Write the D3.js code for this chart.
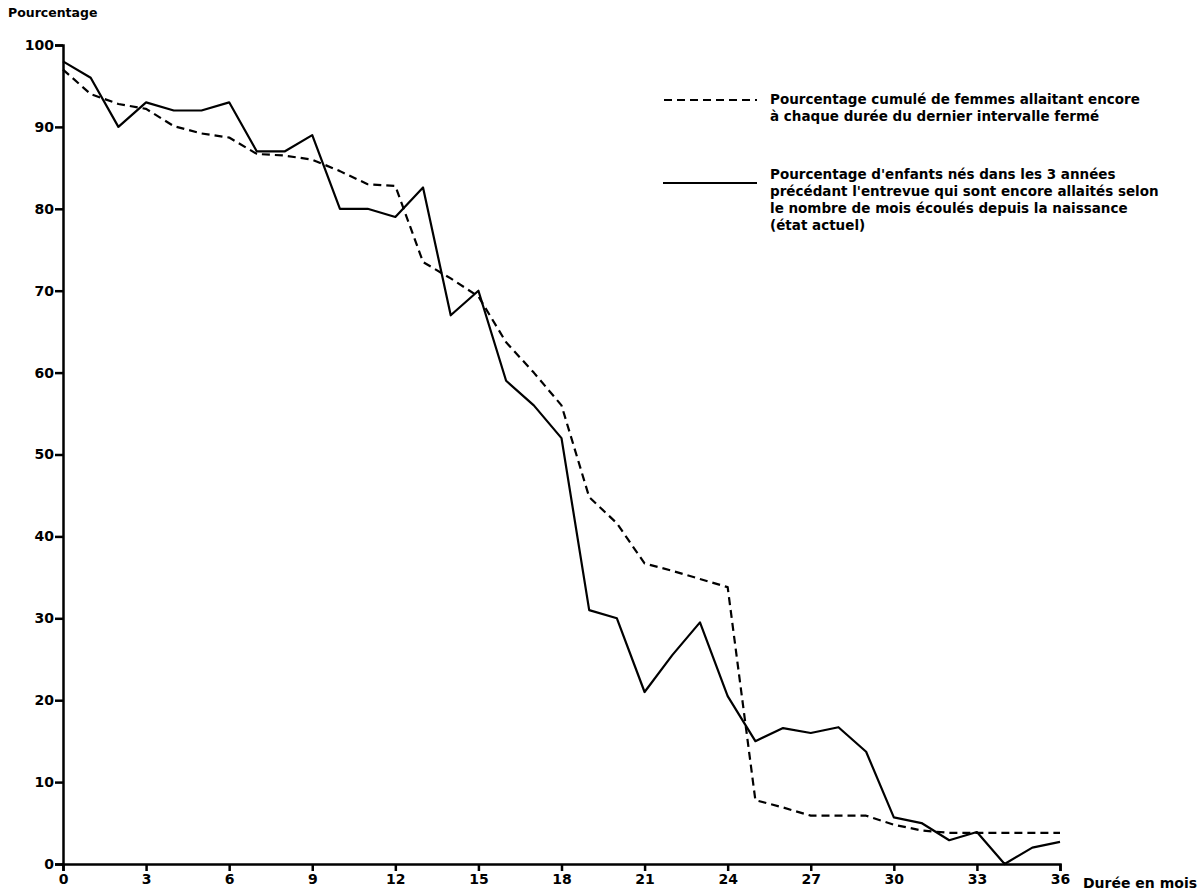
<!DOCTYPE html>
<html>
<head>
<meta charset="utf-8">
<script src="https://cdn.jsdelivr.net/npm/d3@7"></script>
<style>
  body { margin: 0; background: #fff; }
  svg { display: block; }
  text { font-family: "DejaVu Sans", "Liberation Sans", sans-serif; font-weight: bold; fill: #000; }
</style>
</head>
<body>
<svg id="chart" width="1202" height="892"></svg>
<script>
const months = d3.range(0, 37);
const xTicks = [0, 3, 6, 9, 12, 15, 18, 21, 24, 27, 30, 33, 36];
const yTicks = [0, 10, 20, 30, 40, 50, 60, 70, 80, 90, 100];

// Pourcentage cumulé de femmes allaitant encore (dernier intervalle fermé)
const cumulative = [97, 94, 92.8, 92.2, 90.1, 89.2, 88.7, 86.7, 86.5, 86, 84.6, 83, 82.8,
  73.5, 71.5, 69.3, 63.7, 60, 56, 44.8, 41.6, 36.7, 35.8, 34.8, 33.8,
  7.8, 6.9, 5.9, 5.9, 5.9, 4.8, 4.1, 3.8, 3.8, 3.8, 3.8, 3.8];

// Pourcentage d'enfants encore allaités (état actuel)
const current = [98, 96, 90, 93, 92, 92, 93, 87, 87, 89, 80, 80, 79,
  82.6, 67, 70, 59, 56, 52, 31, 30, 21, 25.5, 29.5, 20.5,
  15, 16.6, 16, 16.7, 13.7, 5.7, 5, 2.9, 3.9, 0, 2, 2.7];

const legendDashed = ["Pourcentage cumulé de femmes allaitant encore",
  "à chaque durée du dernier intervalle fermé"];
const legendSolid = ["Pourcentage d'enfants nés dans les 3 années",
  "précédant l'entrevue qui sont encore allaités selon",
  "le nombre de mois écoulés depuis la naissance",
  "(état actuel)"];

const svg = d3.select("#chart");
const x = d3.scaleLinear().domain([0, 36]).range([63, 1060]);
const y = d3.scaleLinear().domain([0, 100]).range([864, 45]);

// Axes
const xAxis = svg.append("g").attr("transform", `translate(0,${y(0)})`)
  .call(d3.axisBottom(x).tickValues(xTicks).tickSize(7).tickPadding(3).tickFormat(d3.format("d")));
const yAxis = svg.append("g").attr("transform", `translate(${x(0)},0)`)
  .call(d3.axisLeft(y).tickValues(yTicks).tickSize(8).tickPadding(1).tickFormat(d3.format("d")));
[xAxis, yAxis].forEach(g => {
  g.select(".domain").attr("stroke", "#000").attr("stroke-width", 2.5);
  g.selectAll(".tick line").attr("stroke", "#000").attr("stroke-width", 2.5);
  g.selectAll(".tick text").style("font-size", "14px").style("font-family", '"DejaVu Sans", sans-serif').style("font-weight", "bold");
});

svg.append("text").attr("x", 8).attr("y", 17).style("font-size", "12.5px").text("Pourcentage");
svg.append("text").attr("x", 1083).attr("y", 888).style("font-size", "14px").text("Durée en mois");

const line = d3.line().x((d, i) => x(months[i])).y(d => y(d));

svg.append("path").datum(cumulative).attr("d", line)
  .attr("fill", "none").attr("stroke", "#000").attr("stroke-width", 2.2)
  .attr("stroke-dasharray", "8,5").attr("stroke-linejoin", "round");
svg.append("path").datum(current).attr("d", line)
  .attr("fill", "none").attr("stroke", "#000").attr("stroke-width", 2.2)
  .attr("stroke-linejoin", "round");

// Legend
svg.append("line").attr("x1", 664).attr("x2", 757).attr("y1", 100).attr("y2", 100)
  .attr("stroke", "#000").attr("stroke-width", 2.2).attr("stroke-dasharray", "8,5");
legendDashed.forEach((t, i) => {
  svg.append("text").attr("x", 770).attr("y", 104 + i * 17).style("font-size", "13.5px").text(t);
});
svg.append("line").attr("x1", 663).attr("x2", 757).attr("y1", 183).attr("y2", 183)
  .attr("stroke", "#000").attr("stroke-width", 2.2);
legendSolid.forEach((t, i) => {
  svg.append("text").attr("x", 770).attr("y", 179 + i * 17).style("font-size", "13.5px").text(t);
});
</script>
</body>
</html>
